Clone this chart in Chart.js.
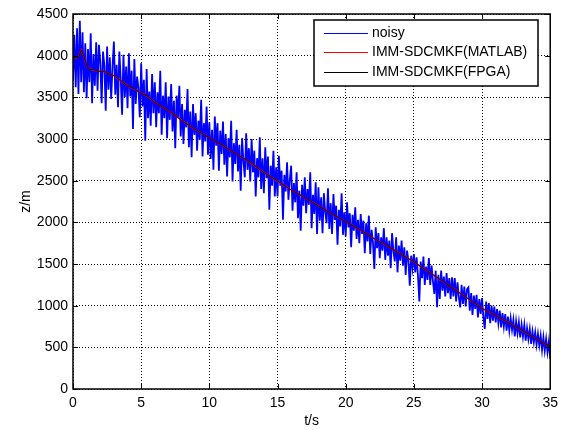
<!DOCTYPE html>
<html>
<head>
<meta charset="utf-8">
<script src="https://cdn.jsdelivr.net/npm/chart.js@4.4.1/dist/chart.umd.min.js"></script>
<style>
  html, body { margin: 0; padding: 0; background: #fff; }
  #wrap { width: 564px; height: 430px; }
</style>
</head>
<body>
<div id="wrap"><canvas id="myChart" width="564" height="430"></canvas></div>
<script>
// noisy measurement, one sample every 0.1 s from 0 to 35 s
var noisy = [
  3700,4250,3620,4330,3540,4420,3680,4280,3560,4150,
  3490,4080,3680,4270,3430,4020,3640,4160,3580,4130,
  3930,3430,4050,3880,3340,4110,3590,3980,3480,3870,
  4170,3530,3890,3380,4050,3720,3290,4010,3500,3870,
  3370,4030,3510,3820,3120,3960,3420,3750,3610,3260,
  3910,3390,3710,2980,3840,3250,3570,3160,3780,3310,
  3680,3140,3560,3310,3820,3050,3520,3250,3680,3010,
  3510,3230,3660,3090,3460,2890,3520,3260,3640,3030,
  3420,2940,3350,3140,3600,2900,3330,2780,3420,3050,
  3310,2860,3220,2990,3470,2790,3190,2970,3390,2810,
  3200,2760,3110,2630,3270,2920,3190,2620,3100,2820,
  3210,2690,3060,2550,3010,2780,3220,2490,2950,2700,
  3110,2610,2930,2380,3010,2730,2540,3070,2630,2890,
  2490,3000,2600,2860,2310,2770,2540,3020,2400,2770,
  2350,2900,2530,2790,2150,2680,2440,2860,2310,2660,
  2310,2800,2440,2620,2030,2570,2370,2720,2270,2510,
  2680,2140,2470,2240,2600,2050,2380,1900,2450,2200,
  2540,2110,2400,2210,2600,1930,2330,2100,2480,1860,
  2420,2020,2300,1870,2350,2120,1990,2410,1920,2230,
  1860,2340,2030,2200,1730,2150,1950,2350,1850,2120,
  1830,2240,1940,2110,1700,2090,1900,2180,1800,2030,
  1750,2100,1860,2020,1630,1990,1770,2080,1620,1910,
  1760,1440,1940,1690,1870,1570,1820,1660,1930,1550,
  1820,1600,1780,1450,1870,1650,1530,1820,1400,1720,
  1540,1780,1480,1700,1370,1660,1540,1240,1600,1450,
  1620,1400,1580,1360,1050,1530,1330,1590,1250,1470,
  1310,1570,1250,1480,1290,1140,1420,980,1370,1080,
  1420,1180,1350,1110,1390,1150,1330,1080,1340,1110,
  1330,1050,1280,1100,980,1250,1020,1230,990,1200,
  1220,940,1150,890,1120,960,1130,860,1080,900,
  1090,860,720,1050,840,1030,790,1000,820,990,
  800,960,790,940,740,910,750,900,700,870,
  700,850,710,830,630,810,670,800,620,770,
  630,770,580,730,600,720,540,690,560,680,
  530,660,520,640,470,620,460,600,440,570,
  360
];

// filter output, time (s) and height (m)
var tFilt   = [0,0.2,0.4,0.6,0.8,1.0,1.2,1.5,2.0,2.3,2.5,3.0,3.5,4.0,4.5,5.0,5.5,6.0,7.0,8.0,9.0,10,11,12,13,14,15,16,17,18,19,20,21,22,23,24,25,26,27,28,29,30,31,32,33,34,35];
var zMatlab = [3990,3970,3985,4070,3990,3880,3840,3825,3815,3812,3790,3760,3700,3640,3600,3550,3510,3440,3340,3220,3110,3015,2920,2820,2720,2600,2495,2390,2295,2200,2100,2010,1915,1815,1720,1625,1525,1415,1305,1195,1080,970,880,790,695,600,505];
var zFpga   = [3985,3975,3980,4065,3995,3885,3835,3830,3810,3815,3788,3762,3702,3638,3602,3548,3512,3438,3342,3218,3112,3013,2922,2818,2722,2598,2497,2388,2297,2198,2102,2008,1917,1813,1722,1623,1527,1413,1307,1193,1082,968,882,788,697,598,507];

var xTicks = [0,5,10,15,20,25,30,35];
var yTicks = [0,500,1000,1500,2000,2500,3000,3500,4000,4500];
var names  = ['noisy', 'IMM-SDCMKF(MATLAB)', 'IMM-SDCMKF(FPGA)'];
var colors = ['#0000ff', '#ff0000', '#000000'];

var FONT = "'Liberation Sans', Arial, sans-serif";

var noisyPts = noisy.map(function (v, i) { return {x: i / 10, y: v}; });
var matlabPts = tFilt.map(function (t, i) { return {x: t, y: zMatlab[i]}; });
var fpgaPts = tFilt.map(function (t, i) { return {x: t, y: zFpga[i]}; });

// matlab style box, inward ticks and legend
var matlabBox = {
  id: 'matlabBox',
  afterDatasetsDraw: function (chart) {
    var ctx = chart.ctx, a = chart.chartArea;
    var xs = chart.scales.x, ys = chart.scales.y;
    ctx.save();
    ctx.strokeStyle = '#000';
    ctx.lineWidth = 1;
    ctx.beginPath();
    xTicks.forEach(function (v) {
      var px = Math.round(xs.getPixelForValue(v)) + 0.5;
      ctx.moveTo(px, a.bottom); ctx.lineTo(px, a.bottom - 5);
      ctx.moveTo(px, a.top); ctx.lineTo(px, a.top + 5);
    });
    yTicks.forEach(function (v) {
      var py = Math.round(ys.getPixelForValue(v)) + 0.5;
      ctx.moveTo(a.left, py); ctx.lineTo(a.left + 5, py);
      ctx.moveTo(a.right, py); ctx.lineTo(a.right - 5, py);
    });
    ctx.stroke();
    ctx.lineWidth = 1.5;
    ctx.strokeRect(a.left, a.top, a.right - a.left, a.bottom - a.top);

    // legend
    var bw = 224, bh = 66;
    var bx = Math.round(a.right - 12 - bw), by = Math.round(a.top + 6);
    ctx.fillStyle = '#fff';
    ctx.fillRect(bx, by, bw, bh);
    ctx.lineWidth = 1.5;
    ctx.strokeStyle = '#000';
    ctx.strokeRect(bx, by, bw, bh);
    ctx.font = '14px ' + FONT;
    ctx.textBaseline = 'middle';
    ctx.textAlign = 'left';
    names.forEach(function (n, i) {
      var ry = Math.round(by + 13 + i * 19.3) + 0.5;
      ctx.strokeStyle = colors[i];
      ctx.lineWidth = 1.2;
      ctx.beginPath();
      ctx.moveTo(bx + 10, ry); ctx.lineTo(bx + 54, ry);
      ctx.stroke();
      ctx.fillStyle = '#000';
      ctx.fillText(n, bx + 58, ry);
    });
    ctx.restore();
  }
};

const config = {
  type: 'line',
  data: {
    datasets: [
      { label: names[0], data: noisyPts, borderColor: colors[0], borderWidth: 1.8, pointRadius: 0, order: 3 },
      { label: names[1], data: matlabPts, borderColor: colors[1], borderWidth: 1.4, pointRadius: 0, order: 2 },
      { label: names[2], data: fpgaPts, borderColor: colors[2], borderWidth: 0.9, pointRadius: 0, order: 1 }
    ]
  },
  options: {
    responsive: false,
    animation: false,
    events: [],
    layout: { padding: { left: 0, right: 8, top: 14, bottom: 0 } },
    plugins: {
      legend: { display: false },
      tooltip: { enabled: false }
    },
    scales: {
      x: {
        type: 'linear', min: 0, max: 35,
        afterFit: function (s) { s.height = 41; },
        afterBuildTicks: function (s) { s.ticks = xTicks.map(function (v) { return {value: v}; }); },
        grid: { color: '#000', lineWidth: 1, drawTicks: false },
        border: { display: false, dash: [1, 2] },
        ticks: { color: '#000', padding: 6, maxRotation: 0, font: { family: FONT, size: 14 },
                 callback: function (v) { return String(v); } },
        title: { display: true, text: 't/s', color: '#000', padding: { top: 0, bottom: 0 }, font: { family: FONT, size: 14 } }
      },
      y: {
        type: 'linear', min: 0, max: 4500,
        afterFit: function (s) { s.width = 73; },
        afterBuildTicks: function (s) { s.ticks = yTicks.map(function (v) { return {value: v}; }); },
        grid: { color: '#000', lineWidth: 1, drawTicks: false },
        border: { display: false, dash: [1, 2] },
        ticks: { color: '#000', padding: 5, font: { family: FONT, size: 14 },
                 callback: function (v) { return String(v); } },
        title: { display: true, text: 'z/m', color: '#000', padding: { top: 18, bottom: 0 }, font: { family: FONT, size: 14 } }
      }
    }
  },
  plugins: [matlabBox]
};

const myChart = new Chart(document.getElementById('myChart'), config);
</script>
</body>
</html>
